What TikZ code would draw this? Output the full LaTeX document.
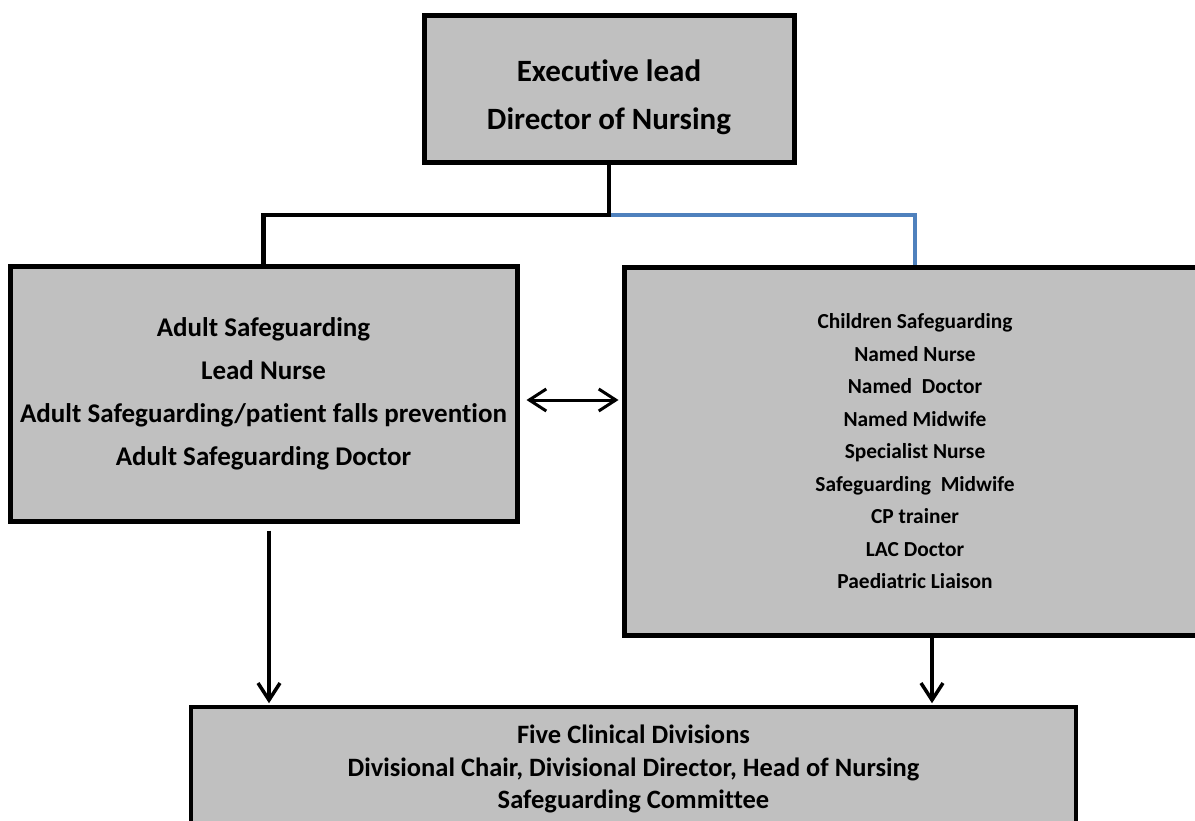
\documentclass[tikz,border=0pt]{standalone}
\usepackage{fontspec}
\setmainfont[Ligatures={NoCommon,NoRare,NoContextual},Contextuals=NoAlternate]{Carlito}
\usetikzlibrary{arrows.meta}
\definecolor{boxgray}{RGB}{192,192,192}
\definecolor{linkblue}{RGB}{79,129,189}
\begin{document}
\begin{tikzpicture}[x=1pt,y=-1pt,
  box/.style={draw=black, fill=boxgray, line width=5pt, rectangle, inner sep=0pt, align=center},
  link/.style={line width=4.5pt, draw=black},
  bluelink/.style={line width=4pt, draw=linkblue},
  arr/.style={line width=3.5pt, -{Straight Barb[length=17pt,width=22pt]}, shorten >=2pt},
  dblarr/.style={line width=3pt, {Straight Barb[length=17pt,width=22pt]}-{Straight Barb[length=17pt,width=22pt]}, shorten >=3pt}]
\useasboundingbox (0,0) rectangle (1195,821);
\clip (0,0) rectangle (1195,821);

\node[box, minimum width=370pt, minimum height=147pt,
      font=\fontsize{31}{48}\selectfont\bfseries] (top) at (609,89.5)
  {\rule{0pt}{38pt}Executive lead\\Director of Nursing};

\node[box, minimum width=507pt, minimum height=254pt,
      font=\fontsize{27}{43}\selectfont\bfseries] (left) at (263.5,394)
  {Adult Safeguarding\\Lead Nurse\\Adult Safeguarding/patient falls prevention\\Adult Safeguarding Doctor};

\node[box, minimum width=582pt, minimum height=367pt,
      font=\fontsize{21.4}{32.5}\selectfont\bfseries] (right) at (915,451.5)
  {Children Safeguarding\\Named Nurse\\Named\ \ Doctor\\Named Midwife\\Specialist Nurse\\Safeguarding\ \ Midwife\\CP trainer\\LAC Doctor\\Paediatric Liaison};

\node[box, line width=3.5pt, minimum width=885pt, minimum height=124pt,
      font=\fontsize{26.5}{32.5}\selectfont\bfseries] (bottom) at (633.5,769)
  {Five Clinical Divisions\\Divisional Chair, Divisional Director, Head of Nursing\\Safeguarding Committee};

\coordinate (j) at (609,215);
\draw[bluelink] (j) -| (right.north);
\draw[link] (left.north) |- (j) -- (top.south);

\coordinate (dl) at ([xshift=7pt,yshift=-6pt]left.east);
\draw[dblarr] (dl) -- (dl -| right.west);

\coordinate (la) at ([xshift=5.5pt,yshift=-7pt]left.south);
\draw[arr] (la) -- (la |- bottom.north);

\coordinate (ra) at ([xshift=17pt]right.south);
\draw[arr] (ra) -- (ra |- bottom.north);
\end{tikzpicture}
\end{document}
